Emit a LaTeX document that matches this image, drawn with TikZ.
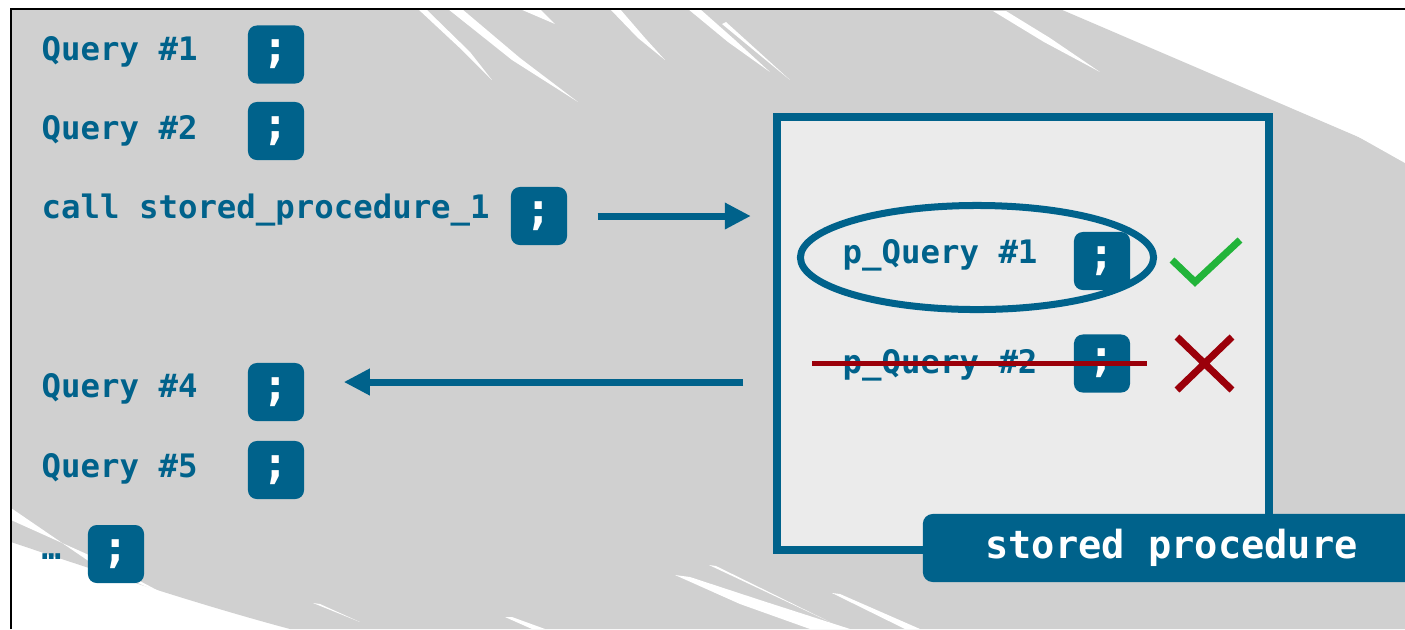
\documentclass[tikz,border=0pt]{standalone}
\usepackage{fontspec}
\setmonofont{DejaVu Sans Mono}
\usetikzlibrary{arrows.meta,shapes.geometric}
\definecolor{sqlblue}{RGB}{0,98,139}
\definecolor{bggrey}{RGB}{208,208,208}
\definecolor{procgrey}{RGB}{235,235,235}
\definecolor{okgreen}{RGB}{34,180,58}
\definecolor{badred}{RGB}{155,0,10}
\newcommand{\qryfont}{\ttfamily\bfseries\fontsize{9.2}{11}\selectfont}
\newcommand{\semifont}{\ttfamily\bfseries\fontsize{12.5}{14}\selectfont}
\newcommand{\labfont}{\ttfamily\bfseries\fontsize{11}{13}\selectfont}
\tikzset{
  query/.style={anchor=base west, inner sep=0pt, text=sqlblue, font=\qryfont},
  semi/.style={fill=sqlblue, text=white, rounded corners=2.5pt, minimum width=0.56cm,
    minimum height=0.58cm, inner sep=0pt, font=\semifont},
  flow/.style={draw=sqlblue, line width=0.07cm, -{Triangle[length=0.26cm,width=0.25cm]}},
  streak/.style={fill=white},
}
\begin{document}
\begin{tikzpicture}[x=0.01cm,y=-0.01cm]
\useasboundingbox (0,0) rectangle (1405,629);
\clip (0,0) rectangle (1405,629);
\fill[bggrey] (11,9) -- (1060,9) -- (1405,157) -- (1405,629) -- (290,629)
  .. controls (200,605) and (100,572) .. (11,542) -- cycle;
\fill[streak] (418,9) -- (426,9) -- (470,52) -- (492,80) -- (462,50) -- cycle;
\fill[streak] (448,9) -- (462,9) -- (520,58) -- (578,102) -- (512,60) -- cycle;
\fill[streak] (520,9) -- (540,9) -- (555,24) -- cycle;
\fill[streak] (610,9) -- (620,9) -- (645,38) -- (665,60) -- (638,38) -- cycle;
\fill[streak] (688,9) -- (700,9) -- (735,40) -- (770,72) -- (728,42) -- cycle;
\fill[streak] (722,24) -- (790,80) -- (726,22) -- cycle;
\fill[streak] (993,11) -- (1006,11) -- (1050,38) -- (1100,72) -- (1044,42) -- cycle;
\fill[streak] (1245,73) -- (1405,150) -- (1405,163) -- cycle;
\fill[streak] (11,508) -- (11,520) -- (100,560) -- (172,598) -- (90,562) -- cycle;
\fill[streak] (505,617) -- (512,617) -- (545,629) -- (532,629) -- cycle;
\fill[streak] (675,575) -- (690,577) -- (760,600) -- (850,629) -- (810,629) -- (740,604) -- cycle;
\fill[streak] (709,565) -- (716,566) -- (830,622) -- cycle;
\fill[streak] (832,593) -- (840,594) -- (920,629) -- (905,629) -- cycle;
\fill[streak] (313,603) -- (320,604) -- (360,622) -- cycle;
\draw[line width=0.025cm] (11,629) -- (11,9) -- (1405,9);

\node[query] (q1) at (41,60) {Query \#1};
\node[query] (q2) at (41,139) {Query \#2};
\node[query] (call) at (41,218) {call stored\_procedure\_1};
\node[query] (q4) at (41,397) {Query \#4};
\node[query] (q5) at (41,477) {Query \#5};
\node[query] (more) at (41,559) {…};
\node[semi] (semi1) at (276,54.5) {;};
\node[semi] (semi2) at (276,131) {;};
\node[semi] (callsemi) at (539,216) {;};
\node[semi] (semi4) at (276,392) {;};
\node[semi] (semi5) at (276,470) {;};
\node[semi] (moresemi) at (116,554) {;};

\node[draw=sqlblue, fill=procgrey, line width=0.08cm, minimum width=4.92cm,
  minimum height=4.33cm, inner sep=0pt] (proc) at (1023,333.5) {};
\node[fill=sqlblue, text=white, rounded corners=2.8pt, minimum width=4.97cm,
  minimum height=0.68cm, font=\labfont] (proclabel) at (1171.5,548) {stored procedure};

\node[query] (pq1) at (842,263) {p\_Query \#1};
\node[query] (pq2) at (842,373) {p\_Query \#2};
\node[semi] (psemi1) at (1102,261) {;};
\node[semi] (psemi2) at (1102,363.5) {;};
\node[draw=sqlblue, line width=0.07cm, ellipse, minimum width=3.53cm,
  minimum height=1.04cm, inner sep=0pt] (pick) at (977,257.5) {};
\draw[badred, line width=0.05cm] (812,363) -- (1147,363);
\draw[okgreen, line width=0.07cm] (1172,260) -- (1195,282) -- (1240,240);
\draw[badred, line width=0.07cm] (1177,337) -- (1232,390) (1232,337) -- (1177,390);

\draw[flow, shorten <=0.3cm, shorten >=0.22cm] (callsemi.east) -- (callsemi.east -| proc.west);
\coordinate (back) at (743,382);
\draw[flow, shorten >=0.39cm] (back) -- (back -| semi4.east);
\end{tikzpicture}
\end{document}
